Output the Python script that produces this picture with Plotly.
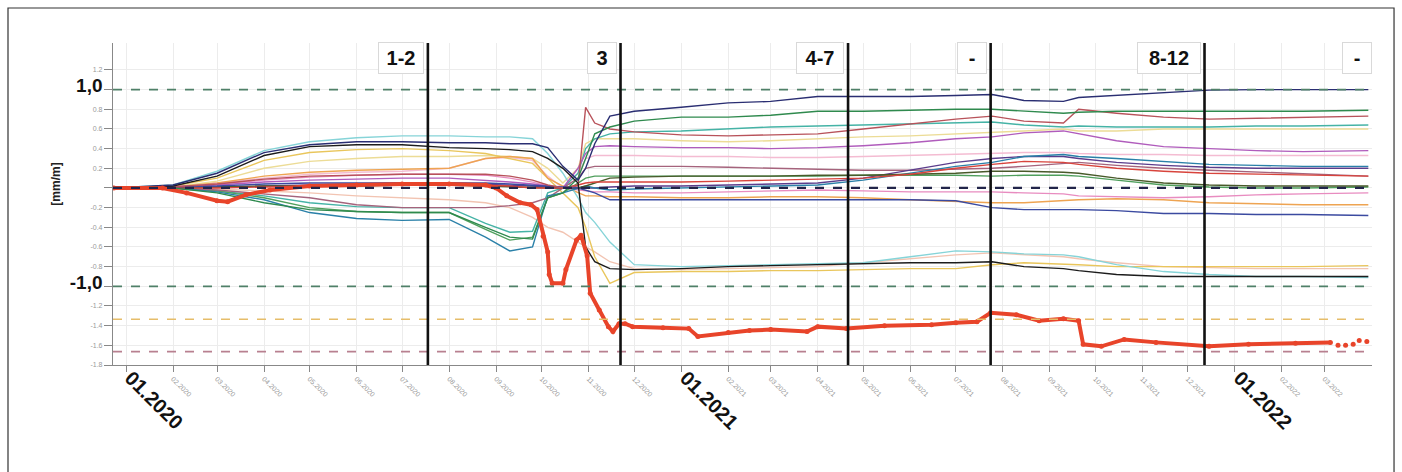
import plotly.graph_objects as go
import pandas as pd

# ---------------- data ----------------
DATES = ["2019-12-24", "2020-02-01", "2020-03-01", "2020-04-01", "2020-05-01", "2020-06-01",
         "2020-07-01", "2020-08-01", "2020-08-25", "2020-09-10", "2020-09-25", "2020-10-05",
         "2020-10-15", "2020-10-25", "2020-10-30", "2020-11-05", "2020-11-15", "2020-12-01",
         "2021-01-01", "2021-02-01", "2021-03-01", "2021-04-01", "2021-05-01", "2021-06-01",
         "2021-07-01", "2021-07-25", "2021-08-15", "2021-09-10", "2021-09-20", "2021-10-15",
         "2021-11-15", "2021-12-15", "2022-01-15", "2022-02-15", "2022-03-30"]

S_NAVY = [0, 0.03, 0.15, 0.36, 0.44, 0.47, 0.47, 0.46, 0.46, 0.45, 0.45, 0.41, 0.22, 0.08, 0.2, 0.45, 0.73, 0.78,
          0.82, 0.865, 0.88, 0.93, 0.93, 0.93, 0.94, 0.95, 0.89, 0.88, 0.92, 0.94, 0.97, 0.995, 1.0, 1.0, 1.0]
S_GREEN = [0, 0, -0.05, -0.15, -0.22, -0.24, -0.25, -0.25, -0.4, -0.5, -0.52, -0.1, -0.05, 0.1, 0.3, 0.55, 0.62, 0.68,
           0.72, 0.72, 0.74, 0.78, 0.78, 0.79, 0.8, 0.8, 0.78, 0.76, 0.77, 0.78, 0.78, 0.78, 0.78, 0.78, 0.79]
S_BROWNRED = [0, 0.01, 0.04, 0.09, 0.12, 0.13, 0.14, 0.14, 0.14, 0.12, 0.08, 0.03, 0.0, 0.02, 0.82, 0.66, 0.6, 0.57,
              0.54, 0.53, 0.54, 0.55, 0.6, 0.65, 0.7, 0.73, 0.68, 0.66, 0.8, 0.76, 0.72, 0.7, 0.71, 0.72, 0.73]
S_CYAN = [0, 0.03, 0.17, 0.38, 0.47, 0.51, 0.53, 0.53, 0.52, 0.52, 0.5, 0.35, 0.15, -0.1, -0.25, -0.35, -0.55, -0.78,
          -0.8, -0.79, -0.78, -0.77, -0.76, -0.7, -0.64, -0.65, -0.67, -0.68, -0.7, -0.78, -0.85, -0.88, -0.9, -0.9, -0.91]
S_BLACK = [0, 0.02, 0.12, 0.33, 0.42, 0.44, 0.44, 0.41, 0.4, 0.39, 0.37, 0.3, 0.2, 0.05, -0.6, -0.75, -0.82, -0.83,
           -0.82, -0.8, -0.79, -0.78, -0.77, -0.76, -0.76, -0.75, -0.8, -0.82, -0.84, -0.88, -0.9, -0.9, -0.9, -0.9, -0.9]
S_YELLOW = [0, 0.02, 0.1, 0.28, 0.36, 0.39, 0.4, 0.38, 0.35, 0.3, 0.25, 0.1, -0.05, -0.2, -0.4, -0.7, -0.97, -0.86,
            -0.85, -0.85, -0.84, -0.84, -0.83, -0.82, -0.82, -0.78, -0.76, -0.77, -0.78, -0.8, -0.8, -0.8, -0.8, -0.8, -0.79]
S_PALEYELLOW = [0, 0.01, 0.07, 0.2, 0.27, 0.3, 0.32, 0.32, 0.33, 0.32, 0.3, 0.2, 0.05, 0.2, 0.45, 0.5, 0.5, 0.5,
                0.48, 0.47, 0.48, 0.5, 0.52, 0.53, 0.55, 0.56, 0.58, 0.6, 0.58, 0.58, 0.6, 0.6, 0.6, 0.6, 0.6]
S_ORANGE = [0, 0.01, 0.05, 0.12, 0.16, 0.18, 0.19, 0.2, 0.3, 0.32, 0.3, 0.1, 0.02, -0.05, -0.08, -0.08, -0.09, -0.09,
            -0.1, -0.1, -0.09, -0.09, -0.1, -0.12, -0.14, -0.15, -0.15, -0.13, -0.12, -0.11, -0.12, -0.15, -0.16, -0.17, -0.17]
S_PURPLE = [0, 0.01, 0.03, 0.06, 0.08, 0.09, 0.1, 0.1, 0.08, 0.06, 0.04, 0.02, 0.0, 0.2, 0.35, 0.42, 0.43, 0.42,
            0.41, 0.41, 0.4, 0.41, 0.43, 0.46, 0.5, 0.52, 0.56, 0.58, 0.55, 0.48, 0.42, 0.4, 0.38, 0.37, 0.38]
S_PINK = [0, 0.01, 0.04, 0.08, 0.11, 0.13, 0.14, 0.14, 0.13, 0.1, 0.06, 0.02, 0.0, -0.02, -0.03, -0.04, -0.04, -0.05,
          -0.05, -0.04, -0.03, -0.02, -0.03, -0.04, -0.04, -0.04, -0.05, -0.06, -0.08, -0.09, -0.1, -0.09, -0.07, -0.06, -0.05]
S_MAUVE = [0, 0, -0.02, -0.06, -0.1, -0.17, -0.2, -0.2, -0.2, -0.18, -0.15, -0.1, 0.0, 0.1, 0.2, 0.22, 0.22, 0.22,
           0.22, 0.21, 0.2, 0.19, 0.18, 0.18, 0.19, 0.2, 0.22, 0.25, 0.26, 0.23, 0.2, 0.18, 0.16, 0.14, 0.12]
S_TEAL = [0, 0, -0.03, -0.08, -0.15, -0.19, -0.2, -0.2, -0.36, -0.45, -0.44, -0.05, 0.0, 0.15, 0.4, 0.5, 0.55, 0.57,
          0.58, 0.6, 0.62, 0.63, 0.64, 0.65, 0.66, 0.67, 0.64, 0.62, 0.63, 0.62, 0.62, 0.62, 0.63, 0.63, 0.64]
S_TEALBLUE = [0, 0, -0.04, -0.12, -0.25, -0.31, -0.33, -0.32, -0.5, -0.64, -0.6, -0.08, -0.05, 0.0, 0.02, 0.0, -0.02, -0.01,
              0.0, 0.01, 0.02, 0.03, 0.08, 0.15, 0.22, 0.26, 0.32, 0.34, 0.32, 0.3, 0.27, 0.24, 0.23, 0.22, 0.22]
S_MIDGREEN = [0, 0, -0.03, -0.1, -0.2, -0.24, -0.25, -0.25, -0.42, -0.53, -0.5, -0.1, -0.05, 0.05, 0.1, 0.12, 0.12, 0.12,
              0.12, 0.12, 0.12, 0.12, 0.13, 0.13, 0.13, 0.12, 0.13, 0.13, 0.12, 0.08, 0.03, 0.01, 0.0, 0.0, 0.01]
S_BLUE = [0, 0.01, 0.02, 0.04, 0.05, 0.05, 0.05, 0.05, 0.05, 0.04, 0.03, 0.02, 0.01, 0.0, -0.02, -0.05, -0.12, -0.12,
          -0.12, -0.12, -0.12, -0.12, -0.12, -0.12, -0.13, -0.2, -0.22, -0.22, -0.22, -0.23, -0.26, -0.26, -0.27, -0.27, -0.28]
S_OLIVE = [0, 0, 0.01, 0.02, 0.02, 0.02, 0.03, 0.03, 0.02, 0.01, 0.0, 0.0, 0.0, 0.0, 0.02, 0.05, 0.1, 0.11,
           0.12, 0.12, 0.12, 0.13, 0.13, 0.14, 0.15, 0.17, 0.17, 0.16, 0.15, 0.1, 0.05, 0.03, 0.02, 0.02, 0.02]
S_RED = [0, 0, 0.0, 0.01, 0.02, 0.03, 0.04, 0.04, 0.03, 0.02, 0.0, 0.0, 0.0, 0.03, 0.05, 0.06, 0.06, 0.06,
         0.06, 0.07, 0.08, 0.09, 0.1, 0.14, 0.2, 0.24, 0.27, 0.26, 0.24, 0.2, 0.17, 0.15, 0.14, 0.13, 0.12]
S_DARKPURPLE = [0, 0.0, 0.01, 0.02, 0.03, 0.04, 0.05, 0.05, 0.04, 0.03, 0.02, 0.01, 0.0, 0.0, 0.0, 0.0, 0.01, 0.02,
                0.02, 0.03, 0.04, 0.05, 0.1, 0.18, 0.26, 0.3, 0.32, 0.32, 0.3, 0.26, 0.23, 0.21, 0.2, 0.2, 0.2]
S_LIGHTPINK = [0, 0.01, 0.05, 0.1, 0.14, 0.16, 0.17, 0.2, 0.3, 0.31, 0.28, 0.12, 0.0, 0.15, 0.3, 0.33, 0.33, 0.33,
               0.32, 0.32, 0.31, 0.31, 0.32, 0.33, 0.34, 0.35, 0.36, 0.36, 0.35, 0.34, 0.34, 0.33, 0.33, 0.33, 0.33]
S_PEACH = [0, 0, -0.01, -0.03, -0.05, -0.08, -0.1, -0.12, -0.15, -0.2, -0.3, -0.4, -0.45, -0.55, -0.6, -0.65, -0.75, -0.82,
           -0.83, -0.82, -0.81, -0.8, -0.76, -0.72, -0.68, -0.66, -0.68, -0.7, -0.72, -0.76, -0.8, -0.81, -0.82, -0.82, -0.82]

THIN_SERIES = [
    ("S_PEACH", S_PEACH, "#f2c4b2"),
    ("S_LIGHTPINK", S_LIGHTPINK, "#f4bcd2"),
    ("S_PALEYELLOW", S_PALEYELLOW, "#ecdc96"),
    ("S_YELLOW", S_YELLOW, "#e9c65c"),
    ("S_ORANGE", S_ORANGE, "#eea452"),
    ("S_PINK", S_PINK, "#e88cc0"),
    ("S_CYAN", S_CYAN, "#86d4d8"),
    ("S_TEAL", S_TEAL, "#45b3a6"),
    ("S_MIDGREEN", S_MIDGREEN, "#4f9f5c"),
    ("S_MAUVE", S_MAUVE, "#a5637c"),
    ("S_PURPLE", S_PURPLE, "#b05cbc"),
    ("S_DARKPURPLE", S_DARKPURPLE, "#5b3d8c"),
    ("S_TEALBLUE", S_TEALBLUE, "#2a80a8"),
    ("S_OLIVE", S_OLIVE, "#485a2a"),
    ("S_RED", S_RED, "#d8443c"),
    ("S_BLUE", S_BLUE, "#3b4aa0"),
    ("S_BROWNRED", S_BROWNRED, "#b8525a"),
    ("S_GREEN", S_GREEN, "#2f8a4e"),
    ("S_BLACK", S_BLACK, "#1c1c1c"),
    ("S_NAVY", S_NAVY, "#2a2e72"),
]

RED_DATES = ["2019-12-24", "2020-01-25", "2020-02-10", "2020-03-01", "2020-03-08", "2020-03-20", "2020-04-05",
             "2020-05-01", "2020-06-01", "2020-07-01", "2020-08-01", "2020-08-25", "2020-09-01", "2020-09-08",
             "2020-09-17", "2020-09-24", "2020-09-28", "2020-10-02", "2020-10-05", "2020-10-06", "2020-10-08",
             "2020-10-15", "2020-10-17", "2020-10-24", "2020-10-27", "2020-10-31", "2020-11-02", "2020-11-08",
             "2020-11-14", "2020-11-17", "2020-11-21", "2020-11-25", "2020-11-30", "2020-12-20", "2021-01-06",
             "2021-01-12", "2021-02-01", "2021-02-15", "2021-03-01", "2021-03-25", "2021-04-01", "2021-04-20",
             "2021-05-15", "2021-06-15", "2021-07-01", "2021-07-15", "2021-07-24", "2021-08-10", "2021-08-25",
             "2021-09-10", "2021-09-20", "2021-09-23", "2021-10-05", "2021-10-20", "2021-11-10", "2021-12-15",
             "2022-01-10", "2022-02-10", "2022-03-05"]
RED_VALS = [0.0, 0.0, -0.05, -0.13, -0.14, -0.07, -0.02, 0.02, 0.03, 0.04, 0.04, 0.03, 0.0, -0.08,
            -0.15, -0.17, -0.22, -0.49, -0.65, -0.88, -0.97, -0.97, -0.83, -0.53, -0.48, -0.69, -1.07, -1.24,
            -1.41, -1.46, -1.38, -1.38, -1.41, -1.42, -1.43, -1.51, -1.47, -1.45, -1.44, -1.46, -1.41, -1.43,
            -1.40, -1.39, -1.37, -1.36, -1.27, -1.29, -1.35, -1.33, -1.35, -1.59, -1.61, -1.54, -1.57, -1.61,
            -1.59, -1.58, -1.57]
RED_TAIL_DATES = ["2022-03-10", "2022-03-15", "2022-03-20", "2022-03-24", "2022-03-29"]
RED_TAIL_VALS = [-1.60, -1.60, -1.59, -1.55, -1.56]

EVENT_DATES = ["2020-07-18", "2020-11-22", "2021-04-21", "2021-07-24", "2021-12-12"]
EVENT_LABELS = ["1-2", "3", "4-7", "-", "8-12", "-"]
EVENT_BOX_W = [44, 28, 46, 28, 62, 28]

THRESHOLDS = [1.0, 0.0, -1.0, -1.335, -1.665]
THRESHOLD_COLORS = ["#4f8068", "#22254a", "#4f8068", "#e6bd6a", "#b88090"]
THRESHOLD_WIDTHS = [1.8, 2.2, 1.8, 1.3, 1.8]

Y_TICKS = [1.2, 1.0, 0.8, 0.6, 0.4, 0.2, 0.0, -0.2, -0.4, -0.6, -0.8, -1.0, -1.2, -1.4, -1.6, -1.8]
Y_BIG = {1.0: "1,0", -1.0: "-1,0"}
MONTHS = pd.date_range("2020-01-01", "2022-03-01", freq="MS")

X_RANGE = ["2019-12-23 10:00", "2022-04-01 10:00"]
Y_RANGE = [-1.8, 1.474]

# ---------------- figure ----------------
fig = go.Figure()

for name, vals, col in THIN_SERIES:
    fig.add_trace(go.Scatter(x=DATES, y=vals, mode="lines", name=name,
                             line=dict(color=col, width=1.4), showlegend=False, hoverinfo="skip"))

fig.add_trace(go.Scatter(x=RED_DATES, y=RED_VALS, mode="lines+markers", name="main",
                         line=dict(color="#e8442a", width=4), marker=dict(color="#e8442a", size=5),
                         showlegend=False))
fig.add_trace(go.Scatter(x=RED_TAIL_DATES, y=RED_TAIL_VALS, mode="markers", name="tail",
                         marker=dict(color="#e8442a", size=5), showlegend=False))

shapes = []
for val, col, w in zip(THRESHOLDS, THRESHOLD_COLORS, THRESHOLD_WIDTHS):
    shapes.append(dict(type="line", xref="paper", x0=0, x1=1, yref="y", y0=val, y1=val,
                       line=dict(color=col, width=w, dash="dash"), layer="above"))
for d in EVENT_DATES:
    shapes.append(dict(type="line", xref="x", x0=d, x1=d, yref="paper", y0=0, y1=1,
                       line=dict(color="#111111", width=2.6), layer="above"))
# outer frame (left, top, right)
shapes.append(dict(type="path", xref="paper", yref="paper",
                   path="M -0.0834,-0.40 L -0.0834,1.1087 L 1.0175,1.1087 L 1.0175,-0.40",
                   line=dict(color="#333333", width=1.2)))

annotations = []
for i, lab in enumerate(EVENT_LABELS):
    if i < len(EVENT_DATES):
        ax = dict(x=EVENT_DATES[i], xref="x", xshift=-4)
    else:
        ax = dict(x=1, xref="paper", xshift=0)
    annotations.append(dict(text="<b>%s</b>" % lab, yref="paper", y=0.953, yanchor="middle",
                            xanchor="right", showarrow=False, width=EVENT_BOX_W[i], height=30,
                            bgcolor="white", bordercolor="#d9d9d9", borderwidth=1, borderpad=0,
                            font=dict(family="Liberation Sans, Arial, sans-serif", size=20, color="#111111"),
                            **ax))
annotations.append(dict(text="<b>[mm/m]</b>", xref="paper", yref="paper", x=-0.0524, y=0.56, textangle=-90,
                        showarrow=False, font=dict(family="Liberation Sans, Arial, sans-serif", size=12,
                                                   color="#222222")))

big_style = "<b><span style='font-size:%dpx;color:#111111'>%s</span></b>"
y_text = []
for v in Y_TICKS:
    if v in Y_BIG:
        y_text.append(big_style % (19, Y_BIG[v]))
    elif abs(v) < 1e-9:
        y_text.append("")
    else:
        y_text.append("%.1f" % v)

x_text = []
for m in MONTHS:
    lab = "%02d.%d" % (m.month, m.year)
    x_text.append(big_style % (20, lab) if m.month == 1 else lab)

fig.update_layout(
    width=1402, height=472,
    margin=dict(l=113, r=30, t=43, b=107),
    paper_bgcolor="white", plot_bgcolor="white",
    font=dict(family="Liberation Sans, Arial, sans-serif"),
    shapes=shapes, annotations=annotations,
    xaxis=dict(type="date", range=X_RANGE, tickvals=list(MONTHS), ticktext=x_text, tickangle=45,
               tickfont=dict(size=7, color="#9a9a9a"), ticks="outside", ticklen=6, tickcolor="#888888",
               showline=True, linecolor="#888888", linewidth=1.2, showgrid=True, gridcolor="#ececec",
               gridwidth=1, zeroline=False),
    yaxis=dict(range=Y_RANGE, tickvals=Y_TICKS, ticktext=y_text, tickfont=dict(size=7, color="#9a9a9a"),
               ticks="outside", ticklen=8, tickcolor="#888888", showline=True, linecolor="#888888",
               linewidth=1.2, showgrid=True, gridcolor="#ececec", gridwidth=1, zeroline=False),
)

fig.write_html("out.html", config={"displayModeBar": False},
               post_script="document.body.style.margin='0';document.body.style.overflow='hidden';")
